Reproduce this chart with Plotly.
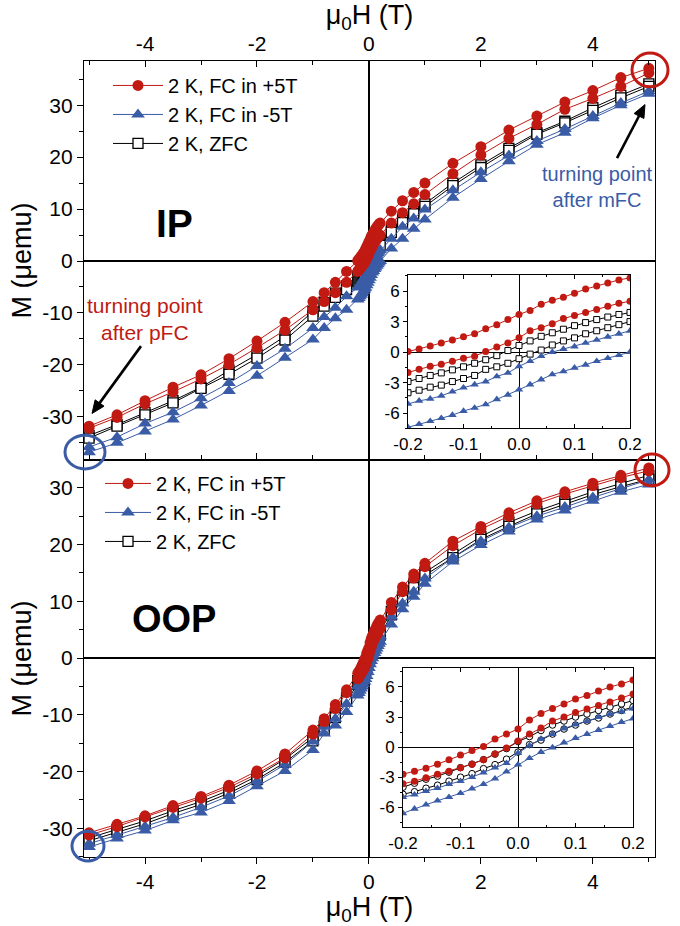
import math
import plotly.graph_objects as go

# ---------------- data ----------------
H_neg = [-5, -4.5, -4, -3.5, -3, -2.5, -2, -1.5, -1, -0.8, -0.6, -0.4]
H_pos = [0.4, 0.6, 0.8, 1, 1.5, 2, 2.5, 3, 3.5, 4, 4.5, 5]
H_fine = [-0.2, -0.18, -0.16, -0.14, -0.12, -0.1, -0.08, -0.06, -0.04, -0.02, 0.0,
          0.02, 0.04, 0.06, 0.08, 0.1, 0.12, 0.14, 0.16, 0.18, 0.2]

# IP  (coarse: values at H_neg followed by H_pos)
ip_red_up = [-31.8, -29.6, -26.9, -24.3, -21.9, -18.8, -15.4, -11.8, -7.8, -6.1, -4.1, -2.0,
             9.6, 11.6, 13.2, 15.0, 18.8, 22.0, 25.2, 27.9, 30.6, 32.8, 35.3, 37.1]
ip_red_lo = [-32.2, -30.1, -27.5, -25.2, -22.7, -19.9, -16.7, -13.3, -9.4, -7.8, -6.1, -4.1,
             7.3, 9.3, 11.0, 12.8, 16.8, 20.4, 23.6, 26.3, 29.2, 31.3, 33.6, 36.2]
ip_zfc_up = [-33.6, -31.5, -29.2, -26.9, -24.3, -21.1, -18.0, -14.5, -9.7, -8.0, -6.2, -4.8,
             6.1, 8.0, 9.6, 11.0, 15.0, 18.5, 21.7, 24.7, 26.9, 29.5, 31.9, 34.1]
ip_zfc_lo = [-34.1, -31.8, -29.6, -27.3, -24.5, -21.8, -18.7, -15.2, -10.6, -8.7, -7.0, -5.5,
             5.5, 7.4, 9.1, 10.5, 14.5, 18.0, 21.3, 24.4, 26.6, 29.0, 31.4, 33.6]
ip_blue_up = [-35.8, -33.9, -31.3, -29.1, -26.4, -23.5, -20.2, -16.9, -12.9, -10.8, -9.0, -6.8,
              4.3, 6.6, 8.2, 9.9, 13.6, 17.1, 20.3, 23.1, 25.4, 27.9, 30.4, 32.7]
ip_blue_lo = [-36.8, -35.0, -32.8, -30.5, -27.8, -25.0, -22.1, -18.6, -15.1, -12.9, -11.0, -9.4,
              2.4, 4.3, 6.2, 8.0, 12.2, 15.8, 19.2, 22.4, 24.7, 27.5, 30.0, 32.2]

# IP fine (inset, H_fine)
ipf_red_up = [0.05, 0.3, 0.6, 0.9, 1.2, 1.5, 1.8, 2.3, 2.7, 3.2, 3.7, 4.1, 4.7, 5.1, 5.4, 5.8, 6.2, 6.5, 6.8, 7.1, 7.3]
ipf_red_lo = [-2.0, -1.7, -1.4, -1.2, -0.9, -0.6, -0.4, 0.05, 0.5, 0.9, 1.4, 2.1, 2.4, 2.8, 3.3, 3.6, 3.9, 4.2, 4.5, 4.8, 5.0]
ipf_zfc_up = [-2.9, -2.6, -2.3, -2.05, -1.75, -1.45, -1.1, -0.75, -0.35, 0.15, 0.65, 1.1, 1.55, 1.9, 2.25, 2.6, 2.9, 3.2, 3.45, 3.7, 3.9]
ipf_zfc_lo = [-4.0, -3.75, -3.45, -3.25, -2.9, -2.6, -2.3, -1.7, -1.45, -1.1, -0.65, -0.2, 0.2, 0.7, 1.1, 1.4, 1.8, 2.1, 2.4, 2.7, 3.0]
ipf_blue_up = [-5.1, -4.8, -4.6, -4.3, -3.9, -3.5, -3.2, -2.9, -2.4, -2.05, -1.4, -0.9, -0.4, 0.0, 0.3, 0.55, 0.9, 1.2, 1.5, 1.8, 2.1]
ipf_blue_lo = [-7.4, -7.1, -6.8, -6.5, -6.2, -5.8, -5.5, -5.15, -4.65, -4.2, -3.7, -3.2, -2.7, -2.2, -1.9, -1.55, -1.25, -0.9, -0.6, -0.3, 0.0]

# OOP coarse
oop_red_up = [-30.8, -29.3, -27.8, -26.0, -24.4, -22.4, -19.9, -16.9, -12.7, -10.7, -8.2, -5.6,
              9.8, 12.5, 14.8, 16.7, 20.6, 23.2, 25.6, 27.7, 29.3, 30.8, 32.2, 33.5]
oop_red_lo = [-31.2, -29.7, -28.0, -26.3, -24.7, -22.8, -20.4, -17.6, -13.4, -11.2, -8.9, -6.1,
              8.5, 11.7, 14.1, 16.1, 19.8, 22.7, 25.0, 27.2, 28.9, 30.4, 31.8, 33.0]
oop_zfc_up = [-31.7, -30.2, -28.7, -26.9, -25.3, -23.3, -20.8, -17.8, -14.0, -12.0, -9.8, -7.0,
              8.2, 10.8, 13.0, 15.1, 18.3, 21.4, 23.9, 25.9, 27.6, 29.3, 30.8, 32.2]
oop_zfc_lo = [-32.2, -30.7, -29.2, -27.4, -25.8, -23.8, -21.4, -18.4, -14.6, -12.6, -10.5, -7.6,
              7.6, 10.2, 12.4, 14.6, 17.7, 20.9, 23.2, 25.4, 27.1, 28.8, 30.2, 31.5]
oop_blue_up = [-32.7, -31.2, -29.7, -28.1, -26.3, -24.3, -21.7, -18.8, -14.7, -12.1, -10.7, -8.1,
               7.3, 9.6, 11.7, 14.0, 17.7, 20.6, 23.0, 25.0, 26.6, 28.3, 29.9, 31.4]
oop_blue_lo = [-33.3, -31.8, -30.4, -28.6, -27.2, -25.2, -22.6, -19.9, -16.2, -13.3, -11.9, -9.5,
               5.9, 8.6, 10.8, 13.1, 17.0, 19.9, 22.3, 24.4, 26.0, 27.7, 29.3, 30.6]

# OOP fine
oopf_red_up = [-2.7, -2.4, -2.1, -1.7, -1.25, -0.8, -0.35, 0.05, 0.8, 1.3, 1.8, 2.7, 3.35, 3.85, 4.3, 4.8, 5.15, 5.6, 6.0, 6.3, 6.7]
oopf_red_lo = [-3.65, -3.4, -3.05, -2.7, -2.4, -2.05, -1.7, -1.25, -0.7, -0.1, 0.6, 1.3, 1.9, 2.6, 3.0, 3.45, 3.8, 4.15, 4.5, 4.9, 5.3]
oopf_zfc_up = [-4.0, -3.6, -3.2, -2.9, -2.5, -2.05, -1.7, -1.25, -0.7, -0.15, 0.55, 1.05, 1.65, 2.2, 2.6, 3.0, 3.3, 3.65, 4.0, 4.3, 4.65]
oopf_zfc_lo = [-4.7, -4.45, -4.1, -3.8, -3.4, -3.0, -2.65, -2.15, -1.75, -1.2, -0.5, 0.25, 0.7, 1.3, 1.8, 2.2, 2.6, 2.9, 3.3, 3.65, 4.0]
oopf_blue_up = [-5.0, -4.75, -4.4, -4.1, -3.7, -3.4, -3.0, -2.55, -2.05, -1.6, -0.6, 0.15, 0.8, 1.3, 1.85, 2.25, 2.6, 3.0, 3.3, 3.55, 3.85]
oopf_blue_lo = [-6.6, -6.15, -5.75, -5.35, -5.0, -4.6, -4.15, -3.7, -3.15, -2.45, -1.75, -1.1, -0.5, -0.05, 0.45, 0.9, 1.3, 1.7, 2.1, 2.5, 2.85]

labels = ["2 K, FC in +5T", "2 K, FC in -5T", "2 K, ZFC"]

# tick labels (hyphen minus as in the reference)
main_x_ticks = [-4, -2, 0, 2, 4]
main_x_text = ["-4", "-2", "0", "2", "4"]
main_x_minor = [-5, -3, -1, 1, 3, 5]
main_y_ticks = [-30, -20, -10, 0, 10, 20, 30]
main_y_text = ["-30", "-20", "-10", "0", "10", "20", "30"]
main_y_minor = [-35, -25, -15, -5, 5, 15, 25, 35]
ins_x_ticks = [-0.2, -0.1, 0.0, 0.1, 0.2]
ins_x_text = ["-0.2", "-0.1", "0.0", "0.1", "0.2"]
ins_x_minor = [-0.15, -0.05, 0.05, 0.15]
ins_y_ticks = [-6, -3, 0, 3, 6]
ins_y_text = ["-6", "-3", "0", "3", "6"]
ins_y_minor = [-7.5, -4.5, -1.5, 1.5, 4.5, 7.5]

# ---------------- style ----------------
RED = "#C01A12"
BLUE = "#3A5CA6"
BLK = "#000000"
FONT = "Liberation Sans"

H_full = H_neg + H_fine + H_pos


def full(coarse, fine):
    return coarse[:12] + fine + coarse[12:]


def loop(coarse_up, fine_up, coarse_lo, fine_lo):
    up = full(coarse_up, fine_up)
    lo = full(coarse_lo, fine_lo)
    return H_full[::-1] + H_full, up[::-1] + lo


fig = go.Figure()

styles = {
    "red": dict(color=RED, symbol="circle", fill=RED, lc=RED),
    "blue": dict(color=BLUE, symbol="triangle-up", fill=BLUE, lc=BLUE),
    "zfc": dict(color=BLK, symbol="square", fill="white", lc=BLK),
}


def add_main(key, name, xs, ys, xa, ya, legend, rank, size):
    s = styles[key]
    fig.add_trace(go.Scatter(
        x=xs, y=ys, xaxis=xa, yaxis=ya, mode="lines+markers", name=name,
        legend=legend, legendrank=rank,
        line=dict(color=s["lc"], width=1),
        marker=dict(symbol=s["symbol"], size=size, color=s["fill"],
                    line=dict(color=s["color"], width=1.3 if key == "zfc" else 0)),
    ))


def add_inset(key, up, lo, xa, ya, size, symbol=None):
    s = styles[key]
    for branch in (up, lo):
        fig.add_trace(go.Scatter(
            x=H_fine, y=branch, xaxis=xa, yaxis=ya, mode="lines+markers",
            showlegend=False,
            line=dict(color=s["lc"], width=1),
            marker=dict(symbol=symbol or s["symbol"], size=size, color=s["fill"],
                        line=dict(color=s["color"], width=1 if key == "zfc" else 0)),
        ))


# top panel (IP)
for key, name, rank, cu, fu, cl, fl, sz in [
    ("zfc", labels[2], 3, ip_zfc_up, ipf_zfc_up, ip_zfc_lo, ipf_zfc_lo, 10),
    ("blue", labels[1], 2, ip_blue_up, ipf_blue_up, ip_blue_lo, ipf_blue_lo, 12),
    ("red", labels[0], 1, ip_red_up, ipf_red_up, ip_red_lo, ipf_red_lo, 11),
]:
    xs, ys = loop(cu, fu, cl, fl)
    add_main(key, name, xs, ys, "x", "y", "legend", rank, sz)

# bottom panel (OOP)
for key, name, rank, cu, fu, cl, fl, sz in [
    ("zfc", labels[2], 3, oop_zfc_up, oopf_zfc_up, oop_zfc_lo, oopf_zfc_lo, 10),
    ("blue", labels[1], 2, oop_blue_up, oopf_blue_up, oop_blue_lo, oopf_blue_lo, 12),
    ("red", labels[0], 1, oop_red_up, oopf_red_up, oop_red_lo, oopf_red_lo, 11),
]:
    xs, ys = loop(cu, fu, cl, fl)
    add_main(key, name, xs, ys, "x2", "y2", "legend2", rank, sz)

# insets
add_inset("zfc", ipf_zfc_up, ipf_zfc_lo, "x3", "y3", 6)
add_inset("blue", ipf_blue_up, ipf_blue_lo, "x3", "y3", 7.5)
add_inset("red", ipf_red_up, ipf_red_lo, "x3", "y3", 7)
add_inset("zfc", oopf_zfc_up, oopf_zfc_lo, "x4", "y4", 6.5, symbol="circle")
add_inset("blue", oopf_blue_up, oopf_blue_lo, "x4", "y4", 7.5)
add_inset("red", oopf_red_up, oopf_red_lo, "x4", "y4", 7)

# ---------------- layout geometry (pixels -> paper) ----------------
L, R, T, B = 84, 655, 59, 863
W, HH = R - L, B - T


def px(x):
    return (x - L) / W


def py(y):
    return (B - y) / HH


SPLIT = py(462)

tickfont = dict(family=FONT, size=21, color="black")
titlefont = dict(family=FONT, size=27, color="black")

common_x = dict(range=[-5.09, 5.11], tickmode="array", tickvals=main_x_ticks,
                ticktext=main_x_text, showline=True, linecolor="black",
                linewidth=1.3, zeroline=True, zerolinecolor="black", zerolinewidth=1.5,
                showgrid=False, tickfont=tickfont, ticklen=6, tickwidth=1.2, tickcolor="black",
                mirror="ticks")
minor_x = dict(tickmode="array", tickvals=main_x_minor, ticklen=3.5, tickwidth=1.2,
               tickcolor="black")
common_y = dict(tickmode="array", tickvals=main_y_ticks, ticktext=main_y_text, showline=True,
                linecolor="black", linewidth=1.3, zeroline=True, zerolinecolor="black",
                zerolinewidth=1.5, showgrid=False, tickfont=tickfont, ticks="outside",
                ticklen=6, tickwidth=1.2, tickcolor="black", mirror=True,
                minor=dict(tickmode="array", tickvals=main_y_minor, ticks="outside",
                           ticklen=3.5, tickwidth=1.2, tickcolor="black"),
                title=dict(text="M (μemu)", font=titlefont, standoff=2))
right_y = dict(tickmode="array", tickvals=main_y_ticks, showticklabels=False, showline=False,
               zeroline=False, showgrid=False, ticks="inside", ticklen=6, tickwidth=1.2,
               tickcolor="black", side="right",
               minor=dict(tickmode="array", tickvals=main_y_minor, ticks="inside",
                          ticklen=3.5, tickwidth=1.2, tickcolor="black"))

inset_tick = dict(family=FONT, size=17, color="black")
inset_x = dict(range=[-0.2, 0.2], tickmode="array", tickvals=ins_x_ticks, ticktext=ins_x_text,
               showline=True, linecolor="black", linewidth=1, mirror="ticks", ticks="inside",
               ticklen=4, tickwidth=1, tickcolor="black", zeroline=True, zerolinecolor="black",
               zerolinewidth=1.3, showgrid=False, tickfont=inset_tick,
               minor=dict(tickmode="array", tickvals=ins_x_minor, ticks="inside",
                          ticklen=2.5, tickcolor="black"))
inset_y = dict(tickmode="array", tickvals=ins_y_ticks, ticktext=ins_y_text, showline=True,
               linecolor="black", linewidth=1, mirror=True, ticks="outside", ticklen=4,
               tickwidth=1, tickcolor="black", zeroline=True, zerolinecolor="black",
               zerolinewidth=1.3, showgrid=False, tickfont=inset_tick,
               minor=dict(tickmode="array", tickvals=ins_y_minor, ticks="outside",
                          ticklen=2.5, tickcolor="black"))

YR1 = [-38.3, 38.5]
YR2 = [-35.06, 34.9]
legfont = dict(family=FONT, size=20, color="black")

fig.update_layout(
    width=680, height=926,
    margin=dict(l=L, r=680 - R, t=T, b=926 - B, pad=0),
    paper_bgcolor="white", plot_bgcolor="rgba(0,0,0,0)",
    font=dict(family=FONT, color="black"),
    xaxis=dict(common_x, domain=[0, 1], anchor="y", side="top", ticks="inside",
               minor=dict(minor_x, ticks="inside"),
               title=dict(text="μ<sub>0</sub>H (T)", font=titlefont, standoff=2)),
    yaxis=dict(common_y, domain=[SPLIT, 1], anchor="x", range=YR1),
    yaxis5=dict(right_y, overlaying="y", anchor="x", range=YR1),
    xaxis2=dict(common_x, domain=[0, 1], anchor="y2", side="bottom", ticks="outside",
                minor=dict(minor_x, ticks="outside"),
                title=dict(text="μ<sub>0</sub>H (T)", font=titlefont, standoff=2)),
    yaxis2=dict(common_y, domain=[0, SPLIT], anchor="x2", range=YR2),
    yaxis6=dict(right_y, overlaying="y2", anchor="x2", range=YR2),
    xaxis3=dict(inset_x, domain=[px(408), px(630)], anchor="y3"),
    yaxis3=dict(inset_y, domain=[py(430), py(275)], anchor="x3", range=[-7.5, 7.6]),
    xaxis4=dict(inset_x, domain=[px(403), px(633)], anchor="y4"),
    yaxis4=dict(inset_y, domain=[py(833), py(672)], anchor="x4", range=[-8.0, 7.9]),
    legend=dict(x=px(108), y=py(64), xanchor="left", yanchor="top", font=legfont,
                bgcolor="rgba(0,0,0,0)", tracegroupgap=0, itemsizing="trace", itemwidth=50),
    legend2=dict(x=px(100), y=py(466), xanchor="left", yanchor="top", font=legfont,
                 bgcolor="rgba(0,0,0,0)", tracegroupgap=0, itemsizing="trace", itemwidth=46),
)

# labels
ann = [
    dict(text="<b>IP</b>", x=px(174), y=py(223), font=dict(family=FONT, size=39, color="black")),
    dict(text="<b>OOP</b>", x=px(174), y=py(623), font=dict(family=FONT, size=38, color="black")),
    dict(text="turning point<br>after pFC", x=px(145), y=py(320),
         font=dict(family=FONT, size=21, color=RED)),
    dict(text="turning point<br>after mFC", x=px(597), y=py(186),
         font=dict(family=FONT, size=20, color=BLUE)),
]
for a in ann:
    fig.add_annotation(xref="paper", yref="paper", showarrow=False, xanchor="center",
                       yanchor="middle", **a)

# arrows drawn as a line plus a filled head (pixel geometry -> paper)
for hx, hy, tx, ty in [(92, 415, 141, 347), (645, 103, 617, 157)]:
    dx, dy = hx - tx, hy - ty
    n = math.hypot(dx, dy)
    ux, uy = dx / n, dy / n
    hl, hw = 13, 5.5
    bx, by = hx - ux * hl, hy - uy * hl
    fig.add_shape(type="line", xref="paper", yref="paper", x0=px(tx), y0=py(ty),
                  x1=px(bx + ux * 2), y1=py(by + uy * 2), line=dict(color="black", width=2.6))
    p1 = (bx - uy * hw, by + ux * hw)
    p2 = (bx + uy * hw, by - ux * hw)
    path = "M {} {} L {} {} L {} {} Z".format(px(hx), py(hy), px(p1[0]), py(p1[1]),
                                             px(p2[0]), py(p2[1]))
    fig.add_shape(type="path", xref="paper", yref="paper", path=path,
                  fillcolor="black", line=dict(color="black", width=1))

# highlight circles
for cx, cy, rx, ry, col in [(650, 68, 18, 17, RED), (85, 454, 20, 17, BLUE),
                            (652, 472, 17, 16, RED), (88, 852, 16, 15, BLUE)]:
    fig.add_shape(type="circle", xref="paper", yref="paper",
                  x0=px(cx - rx), x1=px(cx + rx), y0=py(cy + ry), y1=py(cy - ry),
                  line=dict(color=col, width=3), layer="above")

fig.write_html("out.html")
